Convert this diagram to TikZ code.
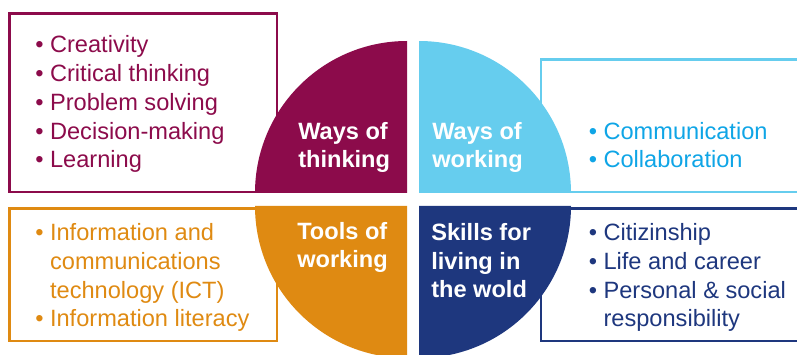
\documentclass[tikz,border=0pt]{standalone}
\usepackage{fontspec}
\setmainfont{Liberation Sans}
\definecolor{wine}{HTML}{8C0B4B}
\definecolor{sky}{HTML}{66CDEE}
\definecolor{skytext}{HTML}{0FA5E6}
\definecolor{amber}{HTML}{DF8A12}
\definecolor{navy}{HTML}{1E377E}
\newcommand{\bul}{\textbullet\ }
\newcommand{\bsp}{\hphantom{\textbullet\ }}
\begin{document}
\begin{tikzpicture}[x=0.75pt,y=0.75pt]
	\tikzstyle{box}=[line width=1.9pt]
	\tikzstyle{lst}=[anchor=base west,inner sep=0pt,align=left,font=\fontsize{17.7}{21.6}\selectfont]
	\tikzstyle{head}=[lst,text=white,font=\fontsize{17.7}{21.6}\selectfont\bfseries]
	\useasboundingbox (0,0) rectangle (797,354);
	\clip (0,0) rectangle (797,354);
	% frames behind the quarters
	\draw[box,wine] (9.5,162) rectangle (277,340.5);
	\draw[box,sky] (541,162) rectangle (810,294.5);
	\draw[box,amber] (9.5,13) rectangle (277,145.5);
	\draw[box,navy] (541,13) rectangle (810,145.5);
	% the four quarters
	\fill[wine] (407,161) -- (255,161) arc (180:90:152) -- cycle;
	\fill[sky] (419,161) -- (571,161) arc (0:90:152) -- cycle;
	\fill[amber] (407,148) -- (255,148) arc (180:270:152) -- cycle;
	\fill[navy] (419,148) -- (571,148) arc (0:-90:152) -- cycle;
	% titles (base = last line)
	\node[head](think) at (298,186){Ways of\\thinking};
	\node[head](work) at (432,186){Ways of\\working};
	\node[head](tools) at (297,86){Tools of\\working};
	\node[head](skills) at (431,56){Skills for\\living in\\the wold};
	% lists
	\node[lst,text=wine](thinklist) at (35,186){\bul Creativity\\\bul Critical thinking\\\bul Problem solving\\\bul Decision-making\\\bul Learning};
	\node[lst,text=skytext](worklist) at (588.5,186){\bul Communication\\\bul Collaboration};
	\node[lst,text=amber](toollist) at (35,27){\bul Information and\\\bsp communications\\\bsp technology (ICT)\\\bul Information literacy};
	\node[lst,text=navy](skilllist) at (588.5,27){\bul Citizinship\\\bul Life and career\\\bul Personal \& social\\\bsp responsibility};
\end{tikzpicture}
\end{document}
